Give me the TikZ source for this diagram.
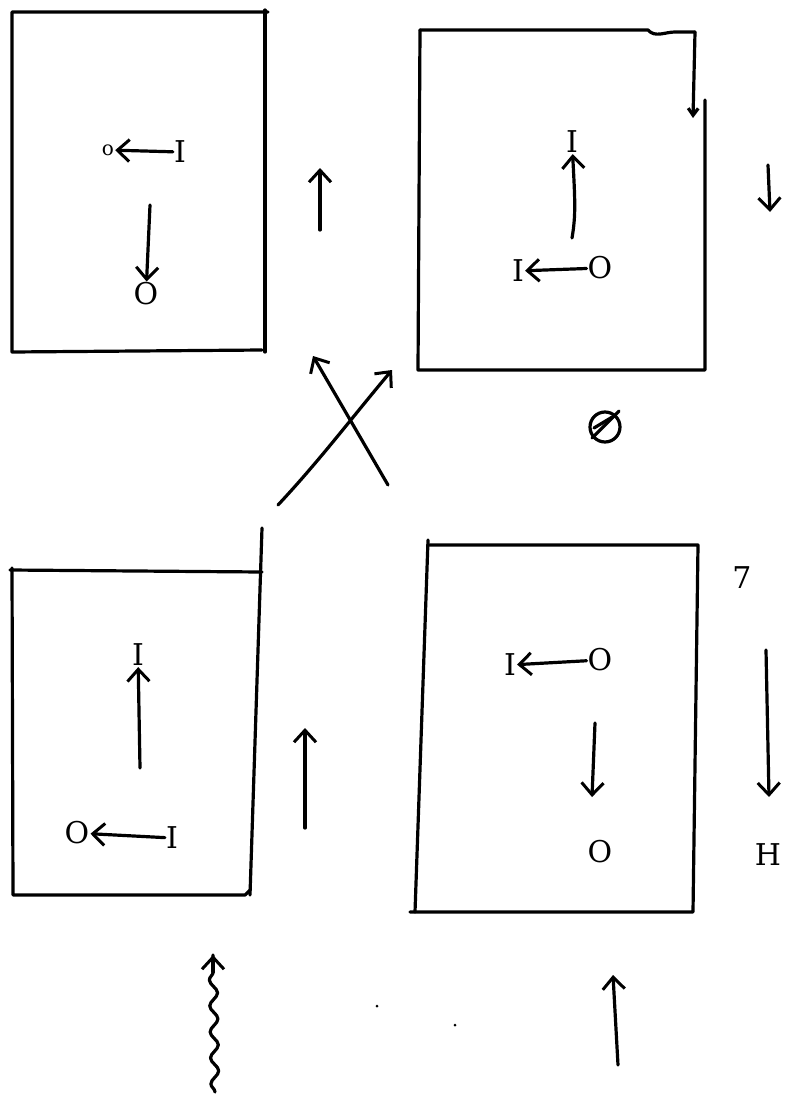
\documentclass[tikz,border=0pt]{standalone}
\usepackage{fontspec}
\setmainfont{DejaVu Serif}
\usetikzlibrary{arrows.meta,decorations.pathmorphing}
\begin{document}
\begin{tikzpicture}[x=1pt,y=-1pt,
  ink/.style={line width=3.2pt,line cap=round,line join=round},
  arr/.style={ink,-{Straight Barb[length=12pt,width=22pt,line width=3pt]}},
  sym/.style={inner sep=1pt,font=\fontsize{30}{30}\selectfont},
  smallsym/.style={inner sep=1pt,font=\fontsize{20}{20}\selectfont}]
\useasboundingbox (0,0) rectangle (794,1100);
% boxes
\draw[ink] (268,12) -- (12,12) -- (12,352) -- (262,350);
\draw[ink] (265,10) -- (265,352);
\draw[ink] (420,30) -- (418,370) -- (705,370) -- (705,100);
\draw[ink] (420,30) -- (648,30) .. controls (655,38) and (665,32) .. (675,32) -- (695,32);
\draw[ink,-{Straight Barb[length=7pt,width=10pt]}] (695,32) -- (693,118);
\draw[ink] (10,570) -- (262,572);
\draw[ink] (12,568) -- (13,895) -- (245,895) -- (250,890);
\draw[ink] (262,528) -- (250,895);
\draw[ink] (428,540) -- (415,912);
\draw[ink] (428,545) -- (698,545) -- (693,912) -- (410,912);
% top-left box
\node[smallsym] (a1) at (108,150) {o};
\node[sym] (a2) at (180,152) {I};
\node[sym] (a3) at (146,294) {O};
\draw[arr] (a2) -- (a1);
\draw[arr] (150,205) -- (a3);
\coordinate (u1s) at (320,230); \coordinate (u1e) at (320,168);
\draw[arr] (u1s) -- (u1e);
% top-right box
\node[sym] (b1) at (572,142) {I};
\node[sym] (b2) at (518,271) {I};
\node[sym] (b3) at (600,268) {O};
\draw[arr] (572,238) .. controls (576,215) and (575,200) .. (b1);
\draw[arr] (b3) -- (b2);
\coordinate (d1s) at (768,165); \coordinate (d1e) at (770,212);
\draw[arr] (d1s) -- (d1e);
% crossing arrows
\coordinate (c1s) at (388,485); \coordinate (c1e) at (313,356);
\coordinate (c2s) at (278,505); \coordinate (c2e) at (392,370);
\draw[arr] (c1s) -- (c1e);
\draw[arr] (c2s) .. controls (320,460) and (350,420) .. (c2e);
% scribbled circle
\node[draw,ink,circle,minimum size=30pt,inner sep=0pt] (phi) at (605,427) {};
\draw[ink] (592,438) -- (619,411);
\draw[ink] (594,428) -- (614,416);
% bottom-left box
\node[sym] (e1) at (138,655) {I};
\node[sym] (e2) at (77,833) {O};
\node[sym] (e3) at (172,838) {I};
\draw[arr] (140,768) -- (e1);
\draw[arr] (e3) -- (e2);
\coordinate (u2s) at (305,828); \coordinate (u2e) at (305,728);
\draw[arr] (u2s) -- (u2e);
% bottom-right box
\node[sym] (f1) at (510,665) {I};
\node[sym] (f2) at (600,660) {O};
\node[sym] (f3) at (600,852) {O};
\draw[arr] (f2) -- (f1);
\draw[arr] (595,723) -- (592,797);
\node[sym] (g1) at (742,578) {7};
\node[sym] (g2) at (768,855) {H};
\coordinate (d2s) at (766,650); \coordinate (d2e) at (769,797);
\draw[arr] (d2s) -- (d2e);
% bottom arrows
\coordinate (w1s) at (215,1092); \coordinate (w1e) at (213,955);
\draw[ink,decorate,decoration={snake,amplitude=4pt,segment length=26pt,post length=14pt}]
  (w1s) -- (w1e);
\draw[arr] (213,972) -- (w1e);
\coordinate (s1s) at (618,1065); \coordinate (s1e) at (613,975);
\draw[arr] (s1s) -- (s1e);
\fill (377,1006) circle (1.5pt);
\fill (455,1025) circle (1.5pt);
\end{tikzpicture}
\end{document}
